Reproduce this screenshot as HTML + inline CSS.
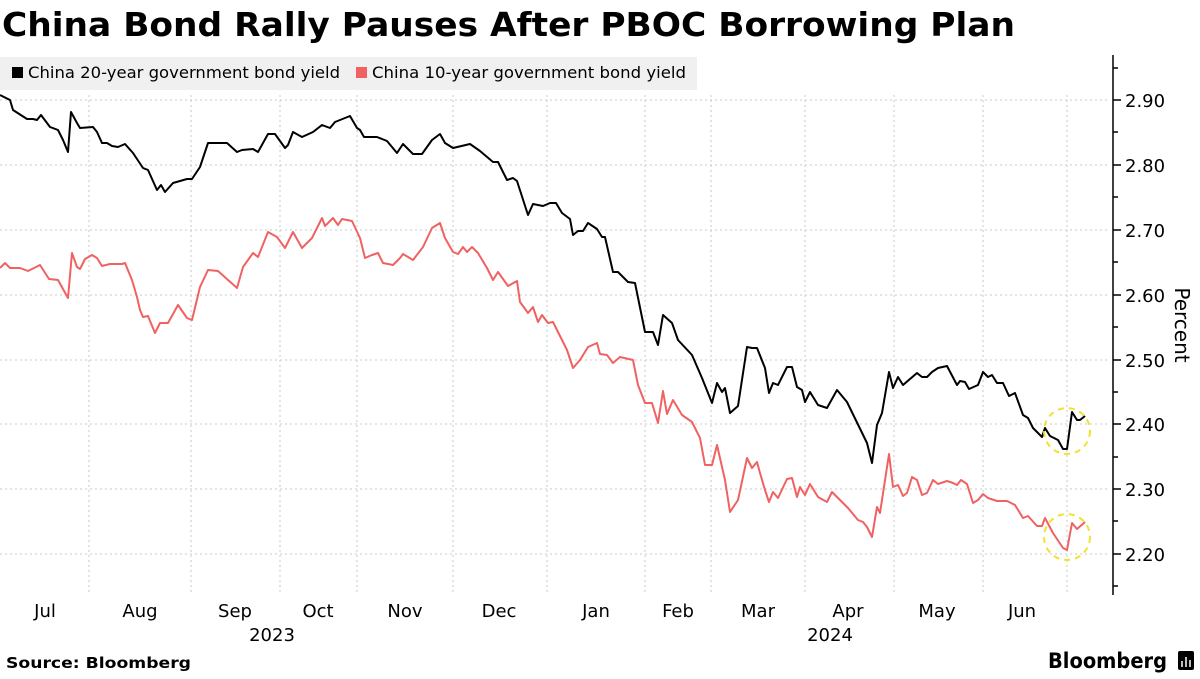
<!DOCTYPE html>
<html><head><meta charset="utf-8"><style>
body{margin:0;width:1200px;height:675px;background:#fff;overflow:hidden;font-family:"DejaVu Sans",sans-serif;}
</style></head><body>
<svg width="1200" height="675" xmlns="http://www.w3.org/2000/svg" font-family="DejaVu Sans, sans-serif">
<text x="2" y="36" font-size="33" font-weight="bold" fill="#000" textLength="1013" lengthAdjust="spacingAndGlyphs">China Bond Rally Pauses After PBOC Borrowing Plan</text>
<rect x="0" y="57" width="697" height="33" fill="#f0f0f0"/>
<rect x="12" y="67" width="11" height="11" fill="#000"/>
<text x="28" y="78" font-size="16" fill="#000" textLength="312" lengthAdjust="spacingAndGlyphs">China 20-year government bond yield</text>
<rect x="356" y="67" width="11" height="11" fill="#f06262"/>
<text x="372" y="78" font-size="16" fill="#000" textLength="314" lengthAdjust="spacingAndGlyphs">China 10-year government bond yield</text>
<g stroke="#c8c8c8" stroke-width="1" stroke-dasharray="2,3">
<line x1="0" x2="1110" y1="100" y2="100"/><line x1="0" x2="1110" y1="165" y2="165"/><line x1="0" x2="1110" y1="230" y2="230"/><line x1="0" x2="1110" y1="295" y2="295"/><line x1="0" x2="1110" y1="360" y2="360"/><line x1="0" x2="1110" y1="424" y2="424"/><line x1="0" x2="1110" y1="489" y2="489"/><line x1="0" x2="1110" y1="554" y2="554"/>
<line x1="89" x2="89" y1="95" y2="595"/><line x1="191" x2="191" y1="95" y2="595"/><line x1="280" x2="280" y1="95" y2="595"/><line x1="357" x2="357" y1="95" y2="595"/><line x1="453" x2="453" y1="95" y2="595"/><line x1="547" x2="547" y1="95" y2="595"/><line x1="645" x2="645" y1="95" y2="595"/><line x1="711" x2="711" y1="95" y2="595"/><line x1="805" x2="805" y1="95" y2="595"/><line x1="894" x2="894" y1="95" y2="595"/><line x1="983" x2="983" y1="95" y2="595"/><line x1="1067" x2="1067" y1="95" y2="595"/>
</g>
<g stroke="#000" stroke-width="1.5">
<line x1="1113" x2="1113" y1="55" y2="595"/>
<line x1="1113" x2="1121" y1="100" y2="100"/><line x1="1113" x2="1121" y1="165" y2="165"/><line x1="1113" x2="1121" y1="230" y2="230"/><line x1="1113" x2="1121" y1="295" y2="295"/><line x1="1113" x2="1121" y1="360" y2="360"/><line x1="1113" x2="1121" y1="424" y2="424"/><line x1="1113" x2="1121" y1="489" y2="489"/><line x1="1113" x2="1121" y1="554" y2="554"/>
<line x1="1113" x2="1118" y1="68" y2="68"/><line x1="1113" x2="1118" y1="132" y2="132"/><line x1="1113" x2="1118" y1="197" y2="197"/><line x1="1113" x2="1118" y1="262" y2="262"/><line x1="1113" x2="1118" y1="327" y2="327"/><line x1="1113" x2="1118" y1="392" y2="392"/><line x1="1113" x2="1118" y1="457" y2="457"/><line x1="1113" x2="1118" y1="521" y2="521"/><line x1="1113" x2="1118" y1="586" y2="586"/>
</g>
<g font-size="18" fill="#000">
<text x="1125" y="107">2.90</text><text x="1125" y="172">2.80</text><text x="1125" y="237">2.70</text><text x="1125" y="302">2.60</text><text x="1125" y="367">2.50</text><text x="1125" y="431">2.40</text><text x="1125" y="496">2.30</text><text x="1125" y="561">2.20</text>
</g>
<text transform="translate(1175,325) rotate(90)" font-size="20" text-anchor="middle" fill="#000">Percent</text>
<g font-size="18" fill="#000" text-anchor="middle">
<text x="45" y="617">Jul</text><text x="140" y="617">Aug</text><text x="235" y="617">Sep</text><text x="318" y="617">Oct</text><text x="405" y="617">Nov</text><text x="499" y="617">Dec</text><text x="596" y="617">Jan</text><text x="678" y="617">Feb</text><text x="758" y="617">Mar</text><text x="848" y="617">Apr</text><text x="937" y="617">May</text><text x="1022" y="617">Jun</text>
<text x="272" y="641">2023</text><text x="830" y="641">2024</text>
</g>
<polyline fill="none" stroke="#f06262" stroke-width="2" stroke-linejoin="round" points="0,268 5,263 10,268 20,268 28,271 40,265 49,279 58,280 68,298 72,253 77,267 80,269 85,259 92,255 97,258 102,266 110,264 122,264 125,263 132,280 137,297 140,310 143,317 148,316 155,333 160,323 168,323 178,305 187,318 192,320 200,287 208,270 218,271 237,288 243,267 253,253 258,257 268,232 277,237 285,248 293,232 302,248 312,238 322,218 325,226 333,218 338,225 342,219 352,221 360,238 365,258 372,255 378,253 383,263 393,265 400,258 403,254 413,260 423,247 432,228 440,223 445,238 453,252 458,254 463,247 467,252 472,247 478,253 487,268 493,280 498,272 508,286 517,281 520,302 528,313 533,307 538,322 542,315 548,323 553,322 567,350 573,368 580,360 588,347 597,343 600,354 607,355 613,363 620,357 633,360 638,385 645,403 652,403 658,423 663,391 667,414 673,400 682,415 692,422 700,438 705,465 712,465 717,445 725,480 730,512 738,500 747,458 752,468 757,462 760,473 765,490 769,502 773,492 778,498 787,479 792,478 797,497 800,487 805,495 810,484 818,497 827,502 832,492 843,503 848,508 858,520 863,522 867,527 872,537 877,507 880,513 889,454 893,487 898,485 903,496 907,493 912,477 917,480 922,495 927,493 933,480 938,484 947,481 953,483 957,485 961,480 967,484 973,503 978,500 983,494 988,498 997,501 1007,501 1015,505 1023,518 1028,516 1037,526 1042,526 1045,518 1053,533 1063,548 1067,550 1072,523 1077,529 1085,522"/>
<polyline fill="none" stroke="#000" stroke-width="2" stroke-linejoin="round" points="0,95 10,100 13,110 27,119 33,119 37,120 41,115 50,127 58,130 63,140 68,152 71,112 77,123 80,128 93,127 97,132 102,143 107,143 112,146 118,147 125,144 133,153 143,168 148,170 157,190 161,185 165,192 173,183 187,179 192,179 200,167 208,143 217,143 227,143 237,152 242,150 253,149 258,152 268,134 275,134 285,148 288,145 293,132 302,137 313,132 322,125 330,128 335,122 350,116 357,128 360,130 364,137 377,137 387,141 397,153 403,144 413,154 422,154 432,140 440,134 445,143 453,148 470,144 480,151 493,162 498,162 507,180 513,178 517,181 528,215 533,204 543,206 550,203 556,203 562,213 570,219 573,235 578,231 583,231 588,223 597,229 602,237 605,237 613,272 618,272 628,282 635,283 645,332 653,332 658,345 663,315 672,323 678,340 692,355 702,378 712,403 717,383 722,392 725,388 730,413 738,406 747,347 752,348 757,348 765,368 769,393 773,383 778,385 787,367 792,367 797,387 802,390 805,402 810,392 818,405 827,408 837,390 847,402 867,443 872,463 877,425 882,413 889,372 893,388 898,377 903,385 917,373 922,377 927,377 932,372 938,368 947,366 957,385 960,381 965,382 969,389 978,385 983,372 988,377 992,375 997,383 1003,383 1009,396 1015,393 1023,415 1028,418 1033,428 1042,437 1045,428 1050,436 1058,440 1063,449 1067,449 1072,412 1077,420 1080,420 1085,416"/>
<g fill="none" stroke="#f2e22a" stroke-width="2" stroke-dasharray="6,5">
<circle cx="1067" cy="431" r="23"/><circle cx="1067" cy="537" r="23"/>
</g>
<text x="6" y="668" font-size="15" font-weight="bold" fill="#000" textLength="185" lengthAdjust="spacingAndGlyphs">Source: Bloomberg</text>
<text x="1048" y="668" font-size="21" font-weight="bold" fill="#000" textLength="119" lengthAdjust="spacingAndGlyphs">Bloomberg</text>
<rect x="1178" y="651" width="16" height="19" rx="2" fill="#000"/>
<g stroke="#fff" stroke-width="1.5"><line x1="1182" y1="661" x2="1182" y2="667"/><line x1="1186" y1="657" x2="1186" y2="667"/><line x1="1190" y1="660" x2="1190" y2="667"/></g>
</svg>
</body></html>
